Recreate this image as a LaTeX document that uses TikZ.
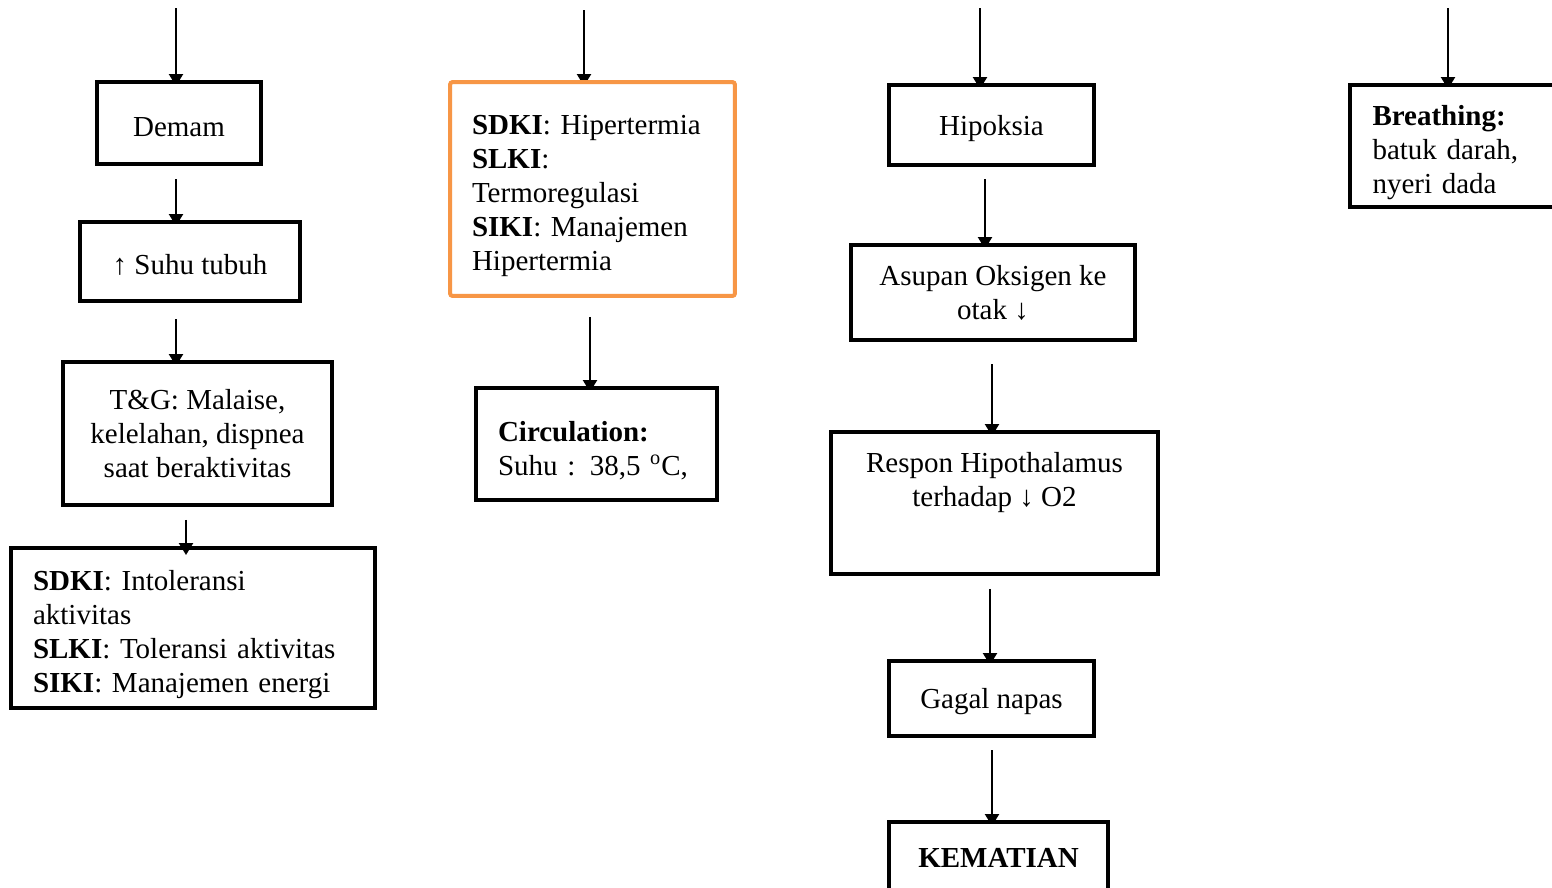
\documentclass[tikz,border=0pt]{standalone}
\usepackage{fontspec}
\setmainfont{Liberation Serif}
\usetikzlibrary{calc,arrows.meta}
\pgfdeclarelayer{back}
\pgfsetlayers{back,main}
\definecolor{ink}{HTML}{000000}
\definecolor{orng}{HTML}{F79646}
\tikzset{
  box/.style={draw=ink, line width=0.08cm, fill=white, align=center, inner sep=0pt,
    font=\fontsize{16.5}{19.35}\selectfont, execute at begin node={\rule{0pt}{15pt}}},
  lbox/.style={box, align=left, execute at begin node={\rule{0pt}{19pt}}},
  obox/.style={lbox, draw=orng, rounded corners=1.5pt},
  link/.style={draw=ink, line width=0.045cm},
  arr/.style={link, -{Triangle[length=0.24cm, width=0.28cm]}},
}

\begin{document}
\begin{tikzpicture}[x=0.02cm, y=-0.02cm]
  \useasboundingbox (0,0) rectangle (1552,887);
  \clip (0,0) rectangle (1552,887);
  % column 1
  \node[box, minimum width=3.28cm, minimum height=1.64cm] (demam) at (179,123) {Demam};
  \node[box, minimum width=4.40cm, minimum height=1.58cm] (suhu) at (190,261.5) {↑ Suhu tubuh};
  \node[box, minimum width=5.38cm, minimum height=2.86cm] (tg) at (197.5,433.5)
    {T\&G: Malaise,\\kelelahan, dispnea\\saat beraktivitas};
  \node[lbox, minimum width=7.28cm, minimum height=3.20cm, text width=6.40cm] (sdki) at (193,628)
    {\textbf{SDKI}: Intoleransi\\aktivitas\\\textbf{SLKI}: Toleransi aktivitas\\\textbf{SIKI}: Manajemen energi};
  % column 2
  \node[obox, minimum width=5.70cm, minimum height=4.28cm, text width=4.82cm] (hiper) at (592.5,189)
    {\textbf{SDKI}: Hipertermia\\\textbf{SLKI}:\\Termoregulasi\\\textbf{SIKI}: Manajemen\\Hipertermia};
  \node[lbox, minimum width=4.82cm, minimum height=2.24cm, text width=3.94cm] (circ) at (596.5,444)
    {\textbf{Circulation:}\\Suhu : 38,5 \textsuperscript{o}C,};
  % column 3
  \node[box, minimum width=4.10cm, minimum height=1.60cm] (hipo) at (991.5,125) {Hipoksia};
  \node[box, minimum width=5.68cm, minimum height=1.90cm] (asupan) at (993,292.5)
    {Asupan Oksigen ke\\otak ↓};
  \node[box, minimum width=6.54cm, minimum height=2.84cm] (respon) at (994.5,503)
    {Respon Hipothalamus\\terhadap ↓ O2\\[8pt]};
  \node[box, minimum width=4.10cm, minimum height=1.50cm] (gagal) at (991.5,698.5) {Gagal napas};
  \node[box, minimum width=4.38cm, minimum height=1.92cm, text depth=18pt] (mati) at (998.5,870)
    {\textbf{KEMATIAN}};
  % column 4
  \node[lbox, minimum width=4.20cm, minimum height=2.44cm, text width=3.30cm] (breath) at (1455,146)
    {\textbf{Breathing:}\\batuk darah,\\nyeri dada};
  % free ends at the top
  \coordinate (t1) at (176,8);
  \coordinate (t2) at (584,10);
  \coordinate (t3) at (980,8);
  \coordinate (t4) at (1448,8);
  % connectors, tips mostly under the boxes
  \begin{pgfonlayer}{back}
    \draw[arr] (t1) -- ($(t1 |- demam.north)+(0,6)$);
    \draw[arr] ($(t1 |- demam.south)+(0,13)$) -- ($(t1 |- suhu.north)+(0,6)$);
    \draw[arr] ($(t1 |- suhu.south)+(0,16)$) -- ($(t1 |- tg.north)+(0,6)$);
    \draw[arr] (t2) -- ($(t2 |- hiper.north)+(0,6)$);
    \draw[arr] ($(hiper.south)+(-2.5,19)$) -- ($(hiper.south |- circ.north)+(-2.5,6)$);
    \draw[arr] (t3) -- ($(t3 |- hipo.north)+(0,6)$);
    \draw[arr] ($(hipo.south)+(-6.5,12)$) -- ($(hipo.south |- asupan.north)+(-6.5,6)$);
    \draw[arr] ($(asupan.south)+(-1,22)$) -- ($(asupan.south |- respon.north)+(-1,6)$);
    \draw[arr] ($(respon.south)+(-4.5,13)$) -- ($(respon.south |- gagal.north)+(-4.5,6)$);
    \draw[arr] ($(gagal.south)+(0.5,12)$) -- ($(gagal.south |- mati.north)+(0.5,6)$);
    \draw[arr] (t4) -- ($(t4 |- breath.north)+(0,6)$);
  \end{pgfonlayer}
  \draw[arr] ($(tg.south)+(-11.5,13)$) -- ($(tg.south |- sdki.north)+(-11.5,9)$);
\end{tikzpicture}
\end{document}
